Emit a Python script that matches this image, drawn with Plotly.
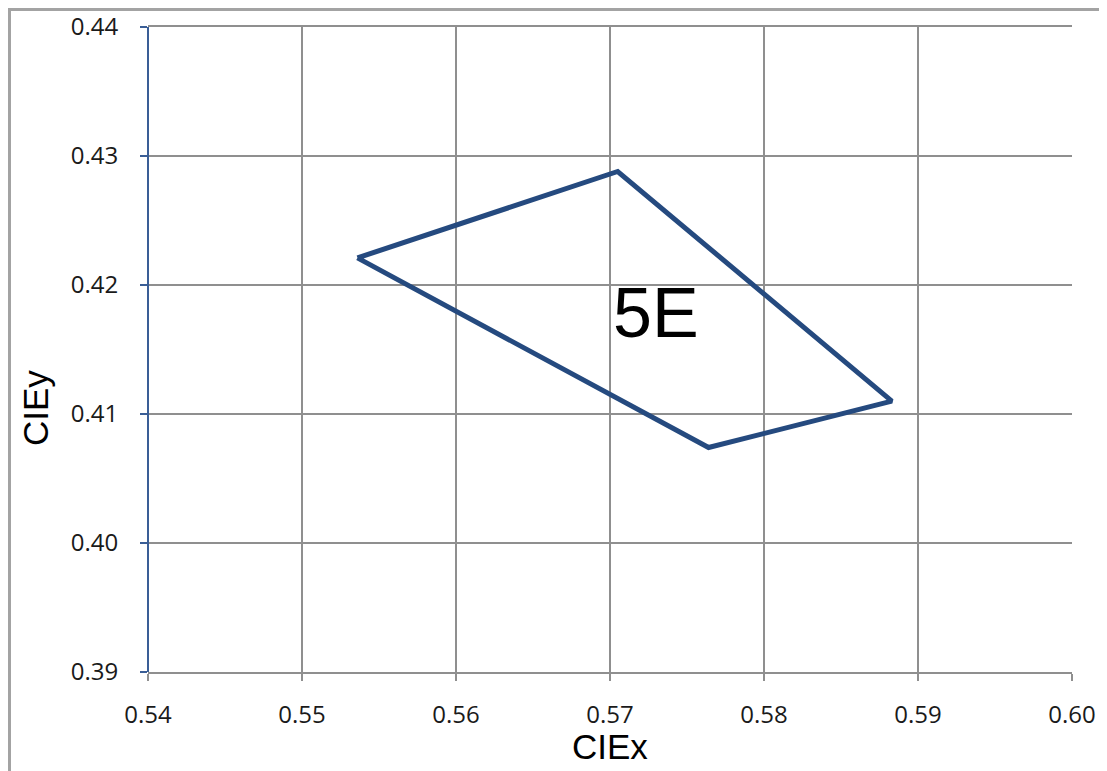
import plotly.graph_objects as go

# Polygon vertices of bin 5E (closed)
cie_x = [0.5536, 0.5705, 0.5883, 0.5764, 0.5536]
cie_y = [0.4221, 0.4288, 0.4110, 0.4074, 0.4221]
label_text = "5E"
label_x = 0.5730
label_y = 0.4178

x_ticks = [0.54, 0.55, 0.56, 0.57, 0.58, 0.59, 0.60]
y_ticks = [0.39, 0.40, 0.41, 0.42, 0.43, 0.44]

# page body has an 8px default margin; compensate so plot sits at px 148..1072, 27..672
OFF = 8
W, H = 1107, 771
L, T = 148 - OFF, 27 - OFF
R = OFF + W - 1072
B = OFF + H - 672
pw, ph = W - L - R, H - T - B

def px2paper_x(px):
    return (px - OFF - L) / pw

def py2paper_y(py):
    return (OFF + H - B - py) / ph

fig = go.Figure()
fig.add_trace(go.Scatter(
    x=cie_x, y=cie_y, mode="lines",
    line=dict(color="#254a7f", width=5),
    hoverinfo="skip", showlegend=False,
))

fig.add_annotation(x=label_x, y=label_y, text=label_text, showarrow=False,
                   xanchor="center", yanchor="middle",
                   font=dict(family="Liberation Sans, Arial", size=70, color="black"))

# Axis titles
fig.add_annotation(xref="paper", yref="paper", x=px2paper_x(610), y=py2paper_y(746),
                   text="CIEx", showarrow=False, xanchor="center", yanchor="middle",
                   font=dict(family="Liberation Sans, Arial", size=35, color="black"))
fig.add_annotation(xref="paper", yref="paper", x=px2paper_x(35), y=py2paper_y(408),
                   text="CIEy", showarrow=False, textangle=-90,
                   xanchor="center", yanchor="middle",
                   font=dict(family="Liberation Sans, Arial", size=35, color="black"))

# Outer chart border
fig.add_shape(type="rect", xref="paper", yref="paper",
              x0=px2paper_x(9.5), x1=px2paper_x(1130), y0=py2paper_y(800), y1=py2paper_y(9.5),
              line=dict(color="#a3a3a3", width=3), layer="below")

tickfont = dict(family="Open Sans, DejaVu Sans", size=24, color="#1a1a1a")

fig.update_layout(
    width=W, height=H,
    margin=dict(l=L, r=R, t=T, b=B),
    paper_bgcolor="white", plot_bgcolor="white",
    xaxis=dict(range=[0.54, 0.60], tickvals=x_ticks, tickformat=".2f",
               showgrid=True, gridcolor="#8f8f8f", gridwidth=2,
               showline=True, linecolor="#8f8f8f", linewidth=2, mirror=True,
               ticks="outside", ticklen=7, tickwidth=2, tickcolor="#8f8f8f",
               tickfont=tickfont, ticklabelstandoff=13, zeroline=False,
               automargin=False),
    yaxis=dict(range=[0.39, 0.44], tickvals=y_ticks, tickformat=".2f",
               showgrid=True, gridcolor="#8f8f8f", gridwidth=2,
               showline=False, zeroline=False,
               ticks="outside", ticklen=7, tickwidth=2, tickcolor="#3a5e96",
               tickfont=tickfont, ticklabelstandoff=17, automargin=False),
)

# Blue left axis line
fig.add_shape(type="line", xref="paper", yref="paper", x0=0, x1=0, y0=0, y1=1,
              line=dict(color="#3a5e96", width=2))

fig.write_html("out.html")
